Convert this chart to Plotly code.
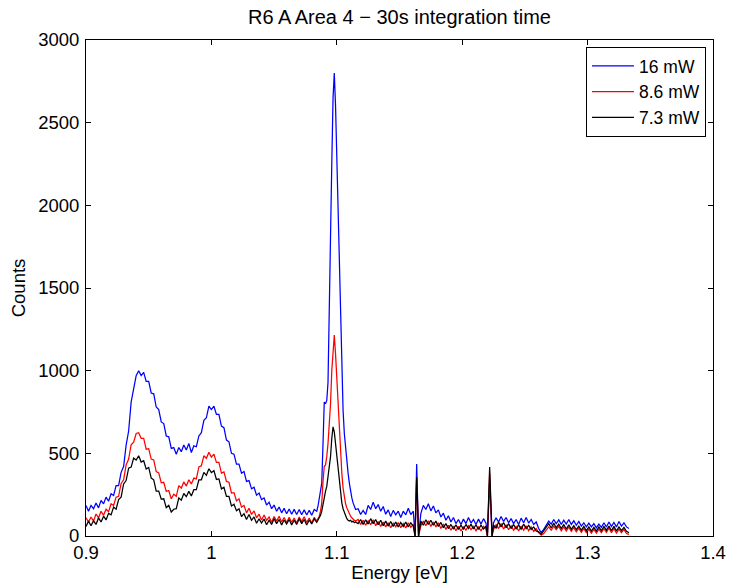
import plotly.graph_objects as go

# ---------------- data ----------------
energy_a = [0.900, 0.902, 0.904, 0.906, 0.908, 0.910, 0.912, 0.914, 0.916, 0.918,
            0.920, 0.922, 0.924, 0.926, 0.928, 0.930, 0.932, 0.934, 0.936, 0.938,
            0.940, 0.942, 0.944, 0.946, 0.948, 0.950, 0.952, 0.954, 0.956, 0.958,
            0.960, 0.962, 0.964, 0.966, 0.968, 0.970, 0.972, 0.974, 0.976, 0.978,
            0.980, 0.982, 0.984, 0.986, 0.988, 0.990, 0.992, 0.994, 0.996, 0.998,
            1.000, 1.002, 1.004, 1.006, 1.008, 1.010, 1.012, 1.014, 1.016, 1.018,
            1.020, 1.022, 1.024, 1.026, 1.028, 1.030, 1.032, 1.034, 1.036, 1.038,
            1.040, 1.042, 1.044, 1.046, 1.048, 1.050, 1.052, 1.054, 1.056, 1.058,
            1.060, 1.062, 1.064, 1.066, 1.068, 1.070, 1.072, 1.074, 1.076, 1.078,
            1.080, 1.082, 1.084]
energy_b = [1.085, 1.086, 1.087, 1.088, 1.089, 1.090, 1.091, 1.092, 1.093, 1.094,
            1.095, 1.096, 1.097, 1.098, 1.099, 1.100, 1.101, 1.102, 1.103, 1.104,
            1.105, 1.106, 1.107, 1.108, 1.109, 1.110, 1.111, 1.112, 1.113, 1.114,
            1.115]
energy_c = [1.117, 1.119, 1.121, 1.123, 1.125, 1.127, 1.129, 1.131, 1.133, 1.135,
            1.137, 1.139, 1.141, 1.143, 1.145, 1.147, 1.149, 1.151, 1.153, 1.155,
            1.157, 1.159, 1.161,
            1.1624, 1.1637, 1.1652,
            1.167, 1.169, 1.171, 1.173, 1.175, 1.177, 1.179, 1.181, 1.183, 1.185,
            1.187, 1.189, 1.191, 1.193, 1.195, 1.197, 1.199, 1.201, 1.203, 1.205,
            1.207, 1.209, 1.211, 1.213, 1.215, 1.217, 1.219,
            1.2201, 1.2219, 1.2238,
            1.225, 1.227, 1.229, 1.231, 1.233, 1.235, 1.237, 1.239, 1.241, 1.243,
            1.245, 1.247, 1.249, 1.251, 1.253, 1.255, 1.257, 1.259, 1.261, 1.263,
            1.265, 1.267, 1.269, 1.271, 1.273, 1.275, 1.277, 1.279, 1.281, 1.283,
            1.285, 1.287, 1.289, 1.291, 1.293, 1.295, 1.297, 1.299, 1.301, 1.303,
            1.305, 1.307, 1.309, 1.311, 1.313, 1.315, 1.317, 1.319, 1.321, 1.323,
            1.325, 1.327, 1.329, 1.331, 1.333]
energy_ev = energy_a + energy_b + energy_c

counts_16mw = [
    185, 150, 185, 165, 200, 170, 215, 195, 235, 210,
    255, 245, 305, 305, 385, 420, 550, 635, 810, 880,
    970, 1000, 970, 990, 935, 935, 865, 860, 780, 765,
    690, 680, 605, 600, 530, 535, 495, 535, 510, 550,
    520, 560, 505, 545, 540, 605, 625, 700, 715, 785,
    765, 785, 735, 735, 665, 655, 580, 570, 500, 495,
    435, 435, 380, 390, 330, 335, 285, 295, 247, 260,
    220, 230, 187, 205, 165, 187, 150, 175, 140, 167,
    135, 163, 132, 161, 130, 160, 129, 158, 127, 156,
    125, 160, 150,
    # fine region around main peak
    180, 230, 280, 320, 560, 810, 800, 820, 930, 1300,
    1750, 2250, 2650, 2800, 2600, 2300, 1950, 1600, 1250, 950,
    760, 620, 520, 450, 380, 320, 270, 230, 200, 175,
    160,
    # tail
    165, 130, 155, 130, 185, 160, 205, 165, 190, 150,
    178, 132, 158, 118, 155, 128, 150, 112, 150, 128,
    168, 130, 150,
    0, 435, 0,
    135, 185, 160, 195, 152, 182, 140, 158, 115, 138,
    95, 122, 85, 112, 75, 100, 70, 102, 75, 112,
    78, 100, 70, 102, 72, 105, 78,
    0, 330, 0,
    80, 110, 85, 118, 88, 112, 80, 105, 75, 100,
    70, 108, 80, 112, 78, 100, 70, 85, 45, 20,
    40, 65, 90, 72, 100, 75, 98, 70, 95, 72,
    100, 70, 92, 65, 88, 60, 80, 55, 78, 55,
    75, 50, 72, 52, 80, 55, 85, 58, 82, 55,
    88, 60, 80, 55, 45]

counts_8_6mw = [
    110, 85, 115, 90, 133, 110, 150, 125, 162, 147,
    195, 185, 235, 240, 318, 340, 430, 465, 552, 567,
    620, 625, 590, 590, 525, 528, 465, 460, 390, 382,
    322, 325, 270, 275, 225, 253, 240, 305, 290, 327,
    302, 340, 315, 350, 345, 418, 425, 485, 470, 507,
    477, 495, 445, 445, 380, 388, 330, 325, 260, 262,
    212, 225, 175, 185, 140, 168, 130, 152, 110, 132,
    97, 127, 95, 115, 83, 118, 90, 120, 85, 112,
    82, 113, 83, 108, 78, 115, 87, 117, 82, 109,
    79, 113, 90,
    105, 120, 150, 200, 330, 420, 430, 480, 560, 660,
    800, 1000, 1150, 1215, 1100, 950, 780, 620, 480, 380,
    290, 230, 195, 170, 150, 135, 120, 110, 100, 95,
    90,
    100, 70, 95, 65, 92, 68, 98, 62, 88, 58,
    85, 55, 80, 50, 78, 55, 82, 50, 75, 48,
    80, 52, 70,
    0, 355, 0,
    60, 90, 62, 92, 58, 85, 55, 80, 45, 72,
    40, 65, 35, 60, 32, 58, 30, 55, 35, 62,
    38, 58, 32, 55, 30, 58, 40,
    0, 380, 0,
    40, 70, 45, 75, 42, 68, 38, 62, 35, 58,
    30, 60, 35, 62, 32, 55, 28, 45, 20, 5,
    15, 35, 55, 35, 60, 38, 58, 32, 55, 30,
    55, 28, 50, 25, 48, 22, 45, 20, 42, 18,
    40, 18, 42, 20, 45, 22, 48, 20, 45, 18,
    42, 20, 40, 15, 10]

counts_7_3mw = [
    58, 90, 62, 92, 70, 110, 85, 120, 97, 137,
    128, 175, 162, 220, 235, 315, 335, 410, 417, 472,
    460, 485, 447, 455, 405, 415, 350, 340, 272, 272,
    223, 225, 172, 185, 145, 162, 165, 230, 217, 257,
    238, 270, 242, 280, 280, 340, 340, 385, 367, 407,
    383, 395, 342, 345, 285, 295, 240, 240, 182, 192,
    153, 165, 117, 135, 100, 130, 95, 115, 77, 104,
    78, 103, 68, 95, 70, 105, 75, 100, 67, 97,
    73, 100, 67, 95, 70, 105, 75, 100, 67, 97,
    73, 103, 82,
    95, 110, 125, 150, 200, 245, 270, 300, 360, 420,
    480, 590, 660, 630, 560, 480, 390, 310, 250, 200,
    165, 140, 120, 105, 95, 90, 95, 85, 90, 80,
    85,
    75, 100, 70, 98, 72, 105, 75, 100, 68, 95,
    62, 90, 60, 88, 58, 85, 55, 82, 58, 85,
    55, 80, 60,
    0, 355, 0,
    90, 65, 98, 70, 95, 65, 90, 58, 82, 50,
    75, 45, 70, 42, 68, 40, 65, 42, 70, 45,
    72, 42, 68, 40, 65, 42, 60,
    0, 417, 0,
    65, 48, 85, 55, 82, 50, 75, 45, 70, 42,
    68, 40, 72, 45, 65, 40, 55, 30, 25, 10,
    30, 50, 75, 48, 78, 50, 72, 45, 70, 42,
    68, 40, 62, 38, 60, 35, 58, 32, 55, 30,
    52, 30, 55, 32, 58, 35, 60, 32, 58, 30,
    55, 32, 52, 28, 20]

series_names = ["16 mW", "8.6 mW", "7.3 mW"]
series_colors = ["#0000FF", "#FF0000", "#000000"]
x_ticks = [0.9, 1.0, 1.1, 1.2, 1.3, 1.4]
x_tick_labels = ["0.9", "1", "1.1", "1.2", "1.3", "1.4"]
y_ticks = [0, 500, 1000, 1500, 2000, 2500, 3000]

# ---------------- figure ----------------
FONT = "Liberation Sans, Arial, Helvetica, sans-serif"
LBL = 18.5
fig = go.Figure()
for name, ys, col in zip(series_names, [counts_16mw, counts_8_6mw, counts_7_3mw], series_colors):
    fig.add_trace(go.Scatter(x=energy_ev, y=ys, mode="lines", name=name,
                             line=dict(color=col, width=1.25)))

axis_common = dict(showline=True, linecolor="black", linewidth=1, mirror="allticks",
                   ticks="inside", ticklen=5, tickcolor="black", showgrid=False,
                   zeroline=False, automargin=False,
                   tickfont=dict(family=FONT, size=LBL, color="black"))

fig.update_layout(
    width=731, height=586,
    margin=dict(l=86, r=18, t=40, b=50),
    paper_bgcolor="white", plot_bgcolor="white",
    font=dict(family=FONT, size=LBL, color="black"),
    title=dict(text="R6 A Area 4 \u2212 30s integration time", x=0.5, xref="paper",
               y=1 - 17 / 586, yref="container", yanchor="middle", xanchor="center",
               font=dict(family=FONT, size=20, color="black")),
    xaxis=dict(range=[0.9, 1.4], tickvals=x_ticks, ticktext=x_tick_labels,
               ticklabelstandoff=0,
               title=dict(text="Energy [eV]", standoff=3,
                          font=dict(family=FONT, size=LBL)),
               **axis_common),
    yaxis=dict(range=[0, 3000], tickvals=y_ticks, ticklabelstandoff=2,
               title=dict(text="Counts", standoff=7,
                          font=dict(family=FONT, size=LBL)),
               **axis_common),
    legend=dict(x=0.9888, y=0.986, xanchor="right", yanchor="top",
                bgcolor="white", bordercolor="black", borderwidth=1,
                font=dict(family=FONT, size=17.5, color="black"),
                tracegroupgap=0, itemwidth=42),
    showlegend=True,
)

fig.write_html("out.html")
